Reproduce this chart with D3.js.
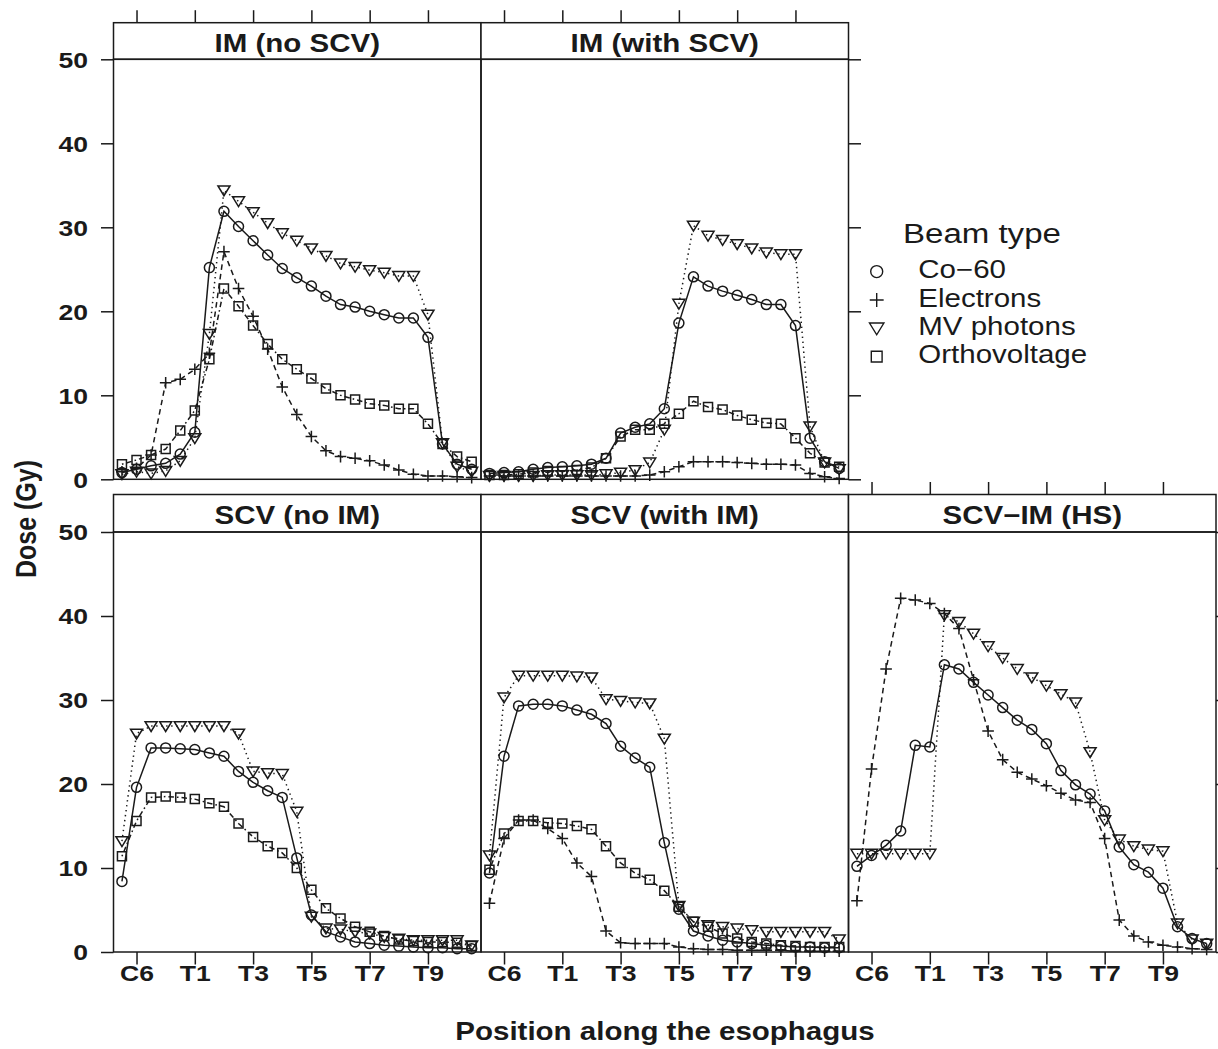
<!DOCTYPE html>
<html>
<head>
<meta charset="utf-8">
<script src="https://cdn.jsdelivr.net/npm/d3@7"></script>
<style>
  body { margin: 0; background: #fff; }
  svg { display: block; font-family: "Liberation Sans", Arial, Helvetica, sans-serif; }
</style>
</head>
<body>
<div id="chart"></div>
<script>
// half-vertebra steps along the esophagus, 0 = just above C6
const positions = [0, 1, 2, 3, 4, 5, 6, 7, 8, 9, 10, 11, 12, 13, 14, 15, 16, 17, 18, 19, 20, 21, 22, 23, 24];
const tickPositions = [1, 5, 9, 13, 17, 21];
const tickLabels = ["C6", "T1", "T3", "T5", "T7", "T9"];
const doseTicks = [0, 10, 20, 30, 40, 50];
const beamTypes = ["Co−60", "Electrons", "MV photons", "Orthovoltage"];

// IM (no SCV)
const imNoScvCo60 = [0.8, 1.2, 1.6, 1.9, 3.0, 5.6, 25.2, 31.9, 30.1, 28.4, 26.7, 25.1, 24.0, 23.0, 21.8, 20.8, 20.5, 20.0, 19.6, 19.2, 19.2, 16.9, 4.2, 1.8, 1.2];
const imNoScvElectrons = [0.9, 1.3, 2.9, 11.5, 11.9, 13.1, 15.0, 27.1, 22.7, 19.4, 15.5, 11.0, 7.7, 5.1, 3.4, 2.7, 2.5, 2.2, 1.7, 1.1, 0.6, 0.4, 0.4, 0.3, 0.2];
const imNoScvMv = [0.6, 0.9, 0.7, 1.0, 2.2, 4.9, 17.3, 34.4, 33.1, 31.8, 30.5, 29.3, 28.4, 27.5, 26.6, 25.7, 25.3, 24.9, 24.6, 24.2, 24.2, 19.6, 4.3, 1.5, 0.9];
const imNoScvOrtho = [1.8, 2.3, 2.9, 3.6, 5.8, 8.2, 14.3, 22.7, 20.6, 18.3, 16.1, 14.3, 13.1, 12.0, 10.8, 10.0, 9.5, 9.0, 8.8, 8.4, 8.4, 6.6, 4.2, 2.7, 2.1];

// IM (with SCV)
const imScvCo60 = [0.7, 0.8, 0.9, 1.2, 1.4, 1.5, 1.6, 1.8, 2.5, 5.5, 6.2, 6.6, 8.4, 18.6, 24.1, 23.0, 22.4, 21.9, 21.4, 20.8, 20.8, 18.3, 4.9, 2.1, 1.3];
const imScvElectrons = [0.4, 0.4, 0.4, 0.4, 0.4, 0.4, 0.4, 0.4, 0.4, 0.4, 0.4, 0.5, 0.9, 1.5, 2.1, 2.1, 2.1, 2.0, 1.9, 1.8, 1.8, 1.7, 0.7, 0.3, 0.1];
const imScvMv = [0.4, 0.4, 0.4, 0.4, 0.5, 0.5, 0.5, 0.5, 0.6, 0.8, 1.1, 2.0, 5.9, 20.9, 30.2, 29.0, 28.5, 28.0, 27.5, 27.0, 26.8, 26.8, 6.3, 2.0, 1.2];
const imScvOrtho = [0.5, 0.5, 0.6, 0.8, 1.0, 1.0, 1.1, 1.4, 2.5, 5.1, 5.9, 5.9, 6.6, 7.8, 9.3, 8.6, 8.3, 7.6, 7.1, 6.7, 6.6, 4.9, 3.1, 2.0, 1.5];

// SCV (no IM) - no electron plan
const scvNoImCo60 = [8.4, 19.6, 24.3, 24.3, 24.2, 24.1, 23.7, 23.3, 21.5, 20.2, 19.2, 18.4, 11.2, 4.4, 2.4, 1.8, 1.2, 1.0, 0.8, 0.7, 0.6, 0.5, 0.5, 0.4, 0.4];
const scvNoImMv = [13.2, 26.0, 26.9, 26.9, 26.9, 26.9, 26.9, 26.9, 26.0, 21.5, 21.3, 21.2, 16.7, 4.2, 2.8, 2.7, 2.4, 2.2, 1.8, 1.6, 1.4, 1.4, 1.4, 1.4, 0.8];
const scvNoImOrtho = [11.4, 15.6, 18.4, 18.5, 18.4, 18.2, 17.7, 17.3, 15.3, 13.7, 12.6, 11.8, 10.0, 7.4, 5.2, 4.0, 3.0, 2.4, 1.9, 1.5, 1.3, 1.2, 1.2, 1.1, 0.7];

// SCV (with IM)
const scvImCo60 = [9.4, 23.3, 29.3, 29.5, 29.5, 29.3, 28.8, 28.3, 27.2, 24.5, 23.1, 22.0, 13.0, 5.1, 2.5, 1.9, 1.4, 1.2, 1.0, 0.8, 0.7, 0.6, 0.6, 0.5, 0.5];
const scvImElectrons = [5.8, 13.5, 15.7, 15.7, 14.7, 13.5, 10.6, 9.0, 2.5, 1.1, 1.0, 1.0, 1.0, 0.6, 0.4, 0.3, 0.3, 0.2, 0.2, 0.2, 0.2, 0.1, 0.1, 0.1, 0.1];
const scvImMv = [11.5, 30.3, 32.9, 32.9, 32.9, 32.9, 32.8, 32.7, 30.1, 29.9, 29.7, 29.6, 25.4, 5.5, 3.6, 3.2, 3.0, 2.8, 2.6, 2.4, 2.4, 2.4, 2.4, 2.4, 1.5];
const scvImOrtho = [9.8, 14.1, 15.6, 15.6, 15.4, 15.3, 15.0, 14.6, 12.6, 10.6, 9.4, 8.6, 7.3, 5.4, 3.6, 3.0, 2.2, 1.6, 1.2, 1.0, 0.8, 0.7, 0.6, 0.6, 0.6];

// SCV-IM (HS) - no orthovoltage plan
const hsCo60 = [10.2, 11.5, 12.7, 14.4, 24.6, 24.4, 34.2, 33.7, 32.1, 30.6, 29.1, 27.6, 26.5, 24.8, 21.6, 19.9, 18.8, 16.8, 12.5, 10.4, 9.5, 7.6, 3.0, 1.6, 1.0];
const hsElectrons = [6.1, 21.8, 33.7, 42.1, 41.9, 41.5, 40.3, 38.5, 32.4, 26.3, 22.9, 21.4, 20.6, 19.8, 18.9, 18.1, 17.8, 13.5, 3.8, 1.9, 1.2, 0.8, 0.6, 0.4, 0.3];
const hsMv = [11.7, 11.7, 11.7, 11.7, 11.7, 11.7, 40.1, 39.3, 37.9, 36.4, 35.0, 33.7, 32.7, 31.7, 30.7, 29.7, 23.8, 15.7, 13.4, 12.6, 12.2, 12.0, 3.4, 1.5, 1.0];

const panels = [
  { title: "IM (no SCV)", col: 0, row: 0, series: [imNoScvCo60, imNoScvElectrons, imNoScvMv, imNoScvOrtho] },
  { title: "IM (with SCV)", col: 1, row: 0, series: [imScvCo60, imScvElectrons, imScvMv, imScvOrtho] },
  { title: "SCV (no IM)", col: 0, row: 1, series: [scvNoImCo60, null, scvNoImMv, scvNoImOrtho] },
  { title: "SCV (with IM)", col: 1, row: 1, series: [scvImCo60, scvImElectrons, scvImMv, scvImOrtho] },
  { title: "SCV−IM (HS)", col: 2, row: 1, series: [hsCo60, hsElectrons, hsMv, null] }
];

const width = 1218, height = 1049;
const SX = 1.18; // the figure text is a bit wide
const ink = "#1a1a1a";
const colLeft = [113.5, 481, 848.5], colW = 367.5;
const rows = [
  { stripTop: 22.7, plotTop: 59.3, plotBottom: 479.3 },
  { stripTop: 494.5, plotTop: 532, plotBottom: 952 }
];
const tickLen = 12.5;

const dashes = [null, "5.5,4", "1.4,3.6", "1.6,3,5.5,3"];

function markerPath(k, s) {
  if (k === 0) { const r = 5 * s; return `M${r},0A${r},${r} 0 1,1 ${-r},0A${r},${r} 0 1,1 ${r},0Z`; }
  if (k === 1) { const a = 5.8 * s; return `M${-a},0H${a}M0,${-a}V${a}`; }
  if (k === 2) { const w = 6 * s, h1 = 4.4 * s, h2 = 5.4 * s; return `M${-w},${-h1}H${w}L0,${h2}Z`; }
  const q = 4.5 * s; return `M${-q},${-q}H${q}V${q}H${-q}Z`;
}

const svg = d3.select("#chart").append("svg")
    .attr("width", width)
    .attr("height", height);

svg.append("rect").attr("width", width).attr("height", height).attr("fill", "#fff");

function stretchText(g, x, y, str, size, weight, anchor) {
  return g.append("text")
      .attr("transform", `translate(${x},${y}) scale(${SX},1)`)
      .attr("text-anchor", anchor || "start")
      .attr("font-size", size)
      .attr("font-weight", weight || "normal")
      .attr("fill", ink)
      .text(str);
}

function styleAxis(g) {
  g.select(".domain").remove();
  g.selectAll(".tick line").attr("stroke", ink).attr("stroke-width", 1.5);
}

panels.forEach(p => {
  const r = rows[p.row], left = colLeft[p.col];
  const x = d3.scaleLinear().domain([-0.58, 24.64]).range([left, left + colW]);
  const y = d3.scaleLinear().domain([0, 50]).range([r.plotBottom, r.plotTop]);
  const g = svg.append("g").attr("class", "panel");

  // strip
  g.append("rect")
      .attr("x", left).attr("y", r.stripTop)
      .attr("width", colW).attr("height", r.plotTop - r.stripTop)
      .attr("fill", "#fff").attr("stroke", ink).attr("stroke-width", 1.5);
  stretchText(g, left + colW / 2, r.stripTop + 29, p.title, 25, "bold", "middle");

  const line = d3.line()
      .x((d, i) => x(positions[i]))
      .y(d => y(d));

  p.series.forEach((vals, k) => {
    if (!vals) return;
    g.append("path")
        .datum(vals)
        .attr("d", line)
        .attr("fill", "none")
        .attr("stroke", ink)
        .attr("stroke-width", 1.5)
        .attr("stroke-dasharray", dashes[k]);
    g.selectAll(null)
        .data(vals)
        .enter().append("path")
        .attr("transform", (d, i) => `translate(${x(positions[i])},${y(d)})`)
        .attr("d", markerPath(k, 1))
        .attr("fill", "none")
        .attr("stroke", ink)
        .attr("stroke-width", 1.5);
  });

  g.append("rect")
      .attr("x", left).attr("y", r.plotTop)
      .attr("width", colW).attr("height", r.plotBottom - r.plotTop)
      .attr("fill", "none").attr("stroke", ink).attr("stroke-width", 1.5);

  // left axis with labels
  if (p.col === 0) {
    const ax = svg.append("g")
        .attr("transform", `translate(${left},0)`)
        .call(d3.axisLeft(y).tickValues(doseTicks).tickSize(tickLen))
        .call(styleAxis);
    ax.selectAll(".tick text")
        .attr("x", -25.5 / SX)
        .attr("dy", "0.35em")
        .attr("transform", `scale(${SX},1)`)
        .attr("font-size", 22.5)
        .attr("font-weight", "bold")
        .attr("font-family", null)
        .attr("fill", ink);
  }
  // right ticks next to empty space / edge
  if (p.col === 2 || (p.row === 0 && p.col === 1)) {
    svg.append("g")
        .attr("transform", `translate(${left + colW},0)`)
        .call(d3.axisRight(y).tickValues(doseTicks).tickSize(tickLen).tickFormat(""))
        .call(styleAxis);
  }
  // top ticks
  if (p.row === 0 || p.col === 2) {
    svg.append("g")
        .attr("transform", `translate(0,${r.stripTop})`)
        .call(d3.axisTop(x).tickValues(tickPositions).tickSize(tickLen).tickFormat(""))
        .call(styleAxis);
  }
  // bottom axis with labels
  if (p.row === 1) {
    const bx = svg.append("g")
        .attr("transform", `translate(0,${r.plotBottom})`)
        .call(d3.axisBottom(x).tickValues(tickPositions).tickSize(tickLen)
          .tickFormat((d, i) => tickLabels[i]))
        .call(styleAxis);
    bx.selectAll(".tick text")
        .attr("y", 29.5)
        .attr("dy", null)
        .attr("transform", `scale(${SX},1)`)
        .attr("font-size", 22.5)
        .attr("font-weight", "bold")
        .attr("font-family", null)
        .attr("fill", ink);
  }
});

// axis titles
stretchText(svg, 665, 1040, "Position along the esophagus", 25, "bold", "middle");
svg.append("text")
    .attr("transform", `translate(36,519) scale(${SX},1) rotate(-90)`)
    .attr("text-anchor", "middle")
    .attr("font-size", 25)
    .attr("font-weight", "bold")
    .attr("fill", ink)
    .text("Dose (Gy)");

// legend
const legend = svg.append("g").attr("class", "legend");
stretchText(legend, 903, 243.3, "Beam type", 28);
beamTypes.forEach((name, k) => {
  const by = 278.3 + k * 28.35;
  legend.append("path")
      .attr("transform", `translate(876.7,${by - 6.7})`)
      .attr("d", markerPath(k, 1.2))
      .attr("fill", "none")
      .attr("stroke", ink)
      .attr("stroke-width", 1.4);
  stretchText(legend, 918.3, by, name, 25);
});
</script>
</body>
</html>
